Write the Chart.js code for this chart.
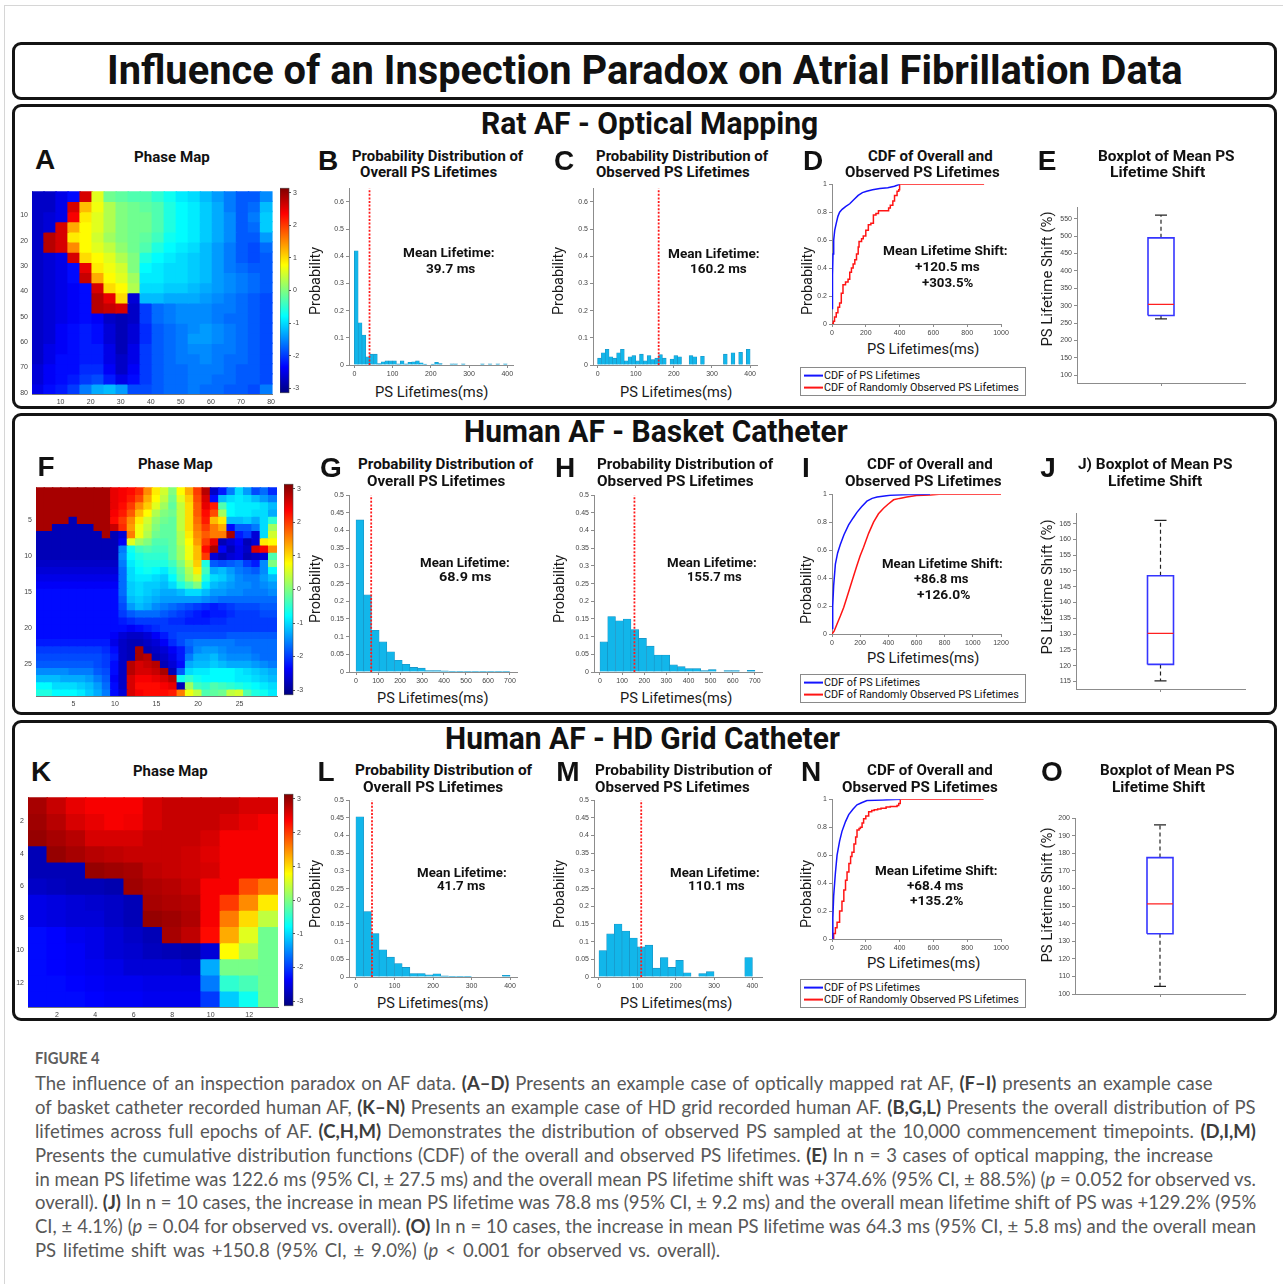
<!DOCTYPE html>
<html>
<head>
<meta charset="utf-8">
<title>Influence of an Inspection Paradox on Atrial Fibrillation Data</title>
<script src="https://cdn.jsdelivr.net/npm/chart.js@4.4.1/dist/chart.umd.min.js"></script>
<style>
  html, body { margin: 0; padding: 0; }
  body { width: 1283px; height: 1284px; position: relative; overflow: hidden; background: #fff; color: #111; font-family: Roboto, 'Liberation Sans', sans-serif; }
  .edge { position: absolute; left: 4px; top: 5px; width: 1300px; height: 1300px; border-top: 1px solid #d6d6d6; border-left: 1px solid #d6d6d6; }
  .frame { position: absolute; border: 3px solid #141414; border-radius: 9px; box-sizing: border-box; }
  .txt { position: absolute; white-space: nowrap; line-height: 1; transform-origin: left center; transform: translateY(-50%); }
  .main { font-size: 40px; font-weight: 700; }
  .row { font-size: 31px; font-weight: 700; }
  .sub { font-size: 14.5px; font-weight: 700; }
  .ann { font-size: 13px; font-weight: 700; }
  .ax { font-size: 15px; color: #1a1a1a; }
  .rot { font-size: 15px; color: #1a1a1a; transform-origin: center; }
  .let { font-family: 'Liberation Sans', Arial, sans-serif; font-size: 28px; font-weight: 700; transform-origin: center; transform: translate(-50%, -50%); }
  .legend { position: absolute; border: 1px solid #8a8a8a; box-sizing: border-box; background: #fff; }
  .legend div { position: absolute; left: 3px; font-size: 10.8px; line-height: 1; white-space: nowrap; transform: translateY(-50%); }
  .legend span { display: inline-block; width: 19px; border-top: 2px solid; vertical-align: middle; margin-right: 1px; }
  .cap { font-family: Lato, 'Open Sans', sans-serif; font-size: 18.5px; color: #585858; }
  .cap b { color: #3d3d3d; }
  .fig { font-family: Lato, 'Open Sans', sans-serif; font-size: 17.5px; font-weight: 700; color: #5e5e5e; }
</style>
</head>
<body>
<div class="edge"></div>
<div class="frame" style="left:12px;top:42px;width:1265px;height:58px"></div>
<div class="frame" style="left:12px;top:104px;width:1265px;height:305px"></div>
<div class="frame" style="left:12px;top:413px;width:1265px;height:302px"></div>
<div class="frame" style="left:12px;top:720px;width:1265px;height:301px"></div>
<script>
// phase maps (rad), row by row
const phaseA = [
  [-2.7,-2.7,-2.5,-2.3,2.6,0.6,-0.1,-0.2,-0.3,-0.3,-0.5,-0.7,-0.9,-1.0,-1.2,-1.4,-1.6,-1.8,-1.8,-1.5],
  [-2.7,-2.7,-2.5,2.6,1.2,0.7,0.3,0.0,-0.1,-0.2,-0.3,-0.6,-0.8,-0.9,-1.1,-1.3,-1.6,-1.8,-1.7,-1.2],
  [-2.7,-2.6,-2.5,2.4,0.9,0.6,0.3,0.0,-0.1,-0.1,-0.3,-0.6,-0.8,-0.9,-1.1,-1.3,-1.5,-1.8,-1.6,-1.1],
  [-2.7,-2.6,2.6,1.3,0.8,0.6,0.3,0.0,-0.1,-0.1,-0.3,-0.6,-0.8,-0.9,-1.1,-1.3,-1.5,-1.8,-1.7,-1.1],
  [-2.7,2.8,2.6,0.9,0.8,0.5,0.2,0.0,-0.1,-0.2,-0.4,-0.7,-0.8,-0.9,-1.1,-1.3,-1.5,-1.8,-1.8,-1.4],
  [-2.7,2.8,2.6,1.5,0.8,0.6,0.4,0.1,-0.1,-0.3,-0.6,-0.8,-0.9,-1.0,-1.2,-1.4,-1.6,-1.8,-1.9,-1.7],
  [-2.7,-2.6,-2.5,2.6,1.0,0.8,0.6,0.3,0.0,-0.6,-0.8,-0.9,-1.0,-1.1,-1.2,-1.4,-1.6,-1.8,-1.9,-1.8],
  [-2.7,-2.6,-2.5,-2.3,2.5,0.9,0.7,0.5,0.0,-0.8,-0.9,-1.0,-1.0,-1.1,-1.2,-1.4,-1.6,-1.7,-1.8,-1.8],
  [-2.7,-2.6,-2.5,-2.3,2.7,1.3,0.8,0.6,0.2,-0.9,-0.9,-1.0,-1.0,-1.1,-1.2,-1.4,-1.5,-1.6,-1.7,-1.8],
  [-2.7,-2.6,-2.5,-2.4,-2.3,2.6,1.0,0.8,0.3,-1.0,-1.0,-1.1,-1.1,-1.2,-1.3,-1.4,-1.5,-1.6,-1.7,-1.8],
  [-2.7,-2.6,-2.5,-2.4,-2.3,2.8,2.5,1.0,-2.6,-1.2,-1.2,-1.3,-1.3,-1.3,-1.4,-1.5,-1.6,-1.7,-1.8,-1.9],
  [-2.7,-2.6,-2.5,-2.4,-2.3,2.8,2.7,2.6,-2.7,-2.0,-1.7,-1.6,-1.5,-1.5,-1.5,-1.6,-1.6,-1.7,-1.8,-1.9],
  [-2.7,-2.6,-2.5,-2.4,-2.3,-2.4,-2.7,-2.8,-2.7,-2.0,-1.7,-1.6,-1.5,-1.5,-1.5,-1.6,-1.7,-1.7,-1.8,-1.9],
  [-2.7,-2.6,-2.4,-2.3,-2.2,-2.3,-2.6,-2.8,-2.6,-2.1,-1.8,-1.7,-1.6,-1.5,-1.4,-1.5,-1.6,-1.7,-1.8,-1.9],
  [-2.7,-2.6,-2.4,-2.3,-2.2,-2.3,-2.6,-2.8,-2.6,-2.1,-1.8,-1.7,-1.6,-1.4,-1.4,-1.5,-1.6,-1.7,-1.8,-1.9],
  [-2.7,-2.5,-2.4,-2.3,-2.2,-2.2,-2.5,-2.8,-2.5,-2.0,-1.8,-1.7,-1.6,-1.5,-1.5,-1.6,-1.6,-1.7,-1.8,-1.9],
  [-2.7,-2.5,-2.3,-2.3,-2.2,-2.2,-2.5,-2.7,-2.5,-2.0,-1.8,-1.7,-1.6,-1.6,-1.5,-1.6,-1.7,-1.7,-1.8,-1.9],
  [-2.6,-2.4,-2.3,-2.3,-2.1,-2.1,-2.4,-2.7,-2.4,-2.0,-1.8,-1.7,-1.7,-1.6,-1.6,-1.6,-1.7,-1.8,-1.8,-1.9],
  [-2.6,-2.4,-2.3,-2.2,-2.0,-1.9,-2.2,-2.5,-2.3,-2.0,-1.8,-1.7,-1.7,-1.6,-1.6,-1.7,-1.7,-1.8,-1.8,-1.9],
  [-2.5,-2.3,-2.2,-2.0,-1.6,-1.3,-1.2,-1.4,-1.9,-1.9,-1.8,-1.7,-1.7,-1.6,-1.7,-1.7,-1.8,-1.8,-1.9,-1.6],
];
const phaseF = [
  [2.9,2.9,2.9,2.9,2.9,2.9,2.9,2.9,2.9,2.5,2.4,2.3,2.1,1.5,0.9,0.5,0.0,0.8,1.3,2.0,2.8,-2.7,-2.2,-1.6,-1.0,-1.4,-1.9,-1.7,-2.1],
  [2.9,2.9,2.9,2.9,2.9,2.9,2.9,2.9,2.9,2.5,2.4,2.2,1.9,1.3,0.8,0.4,-0.1,0.6,1.1,1.9,2.6,-2.3,-1.2,-1.0,-0.9,-1.0,-1.2,-1.4,-1.6],
  [2.9,2.9,2.9,2.9,2.9,2.9,2.9,2.9,2.9,2.5,2.3,2.0,1.5,1.1,0.6,0.2,-0.2,0.4,1.0,1.8,2.5,2.2,-0.3,-0.8,-0.9,-0.9,-0.9,-1.0,-1.2],
  [2.9,2.9,2.9,2.9,2.9,2.9,2.9,2.9,2.9,2.4,2.2,1.8,1.2,0.8,0.3,0.0,-0.1,0.4,1.0,1.8,2.3,1.9,0.2,-0.8,-0.9,-0.9,-1.0,-1.0,-1.3],
  [2.9,2.9,2.9,2.9,-2.8,2.9,2.9,2.9,2.9,2.3,2.0,1.5,0.9,0.5,0.1,-0.1,-0.2,0.4,1.0,1.7,2.2,1.2,0.9,-1.2,-1.2,-1.1,-1.3,-1.0,-0.5],
  [2.9,2.9,-2.8,-2.8,-2.8,-2.8,-2.8,2.9,2.9,2.7,2.1,1.4,0.7,0.4,0.0,-0.2,-0.2,0.4,1.0,1.6,2.0,1.6,1.3,-2.3,-1.8,-1.8,-1.6,-1.0,0.2],
  [-2.8,-2.8,-2.8,-2.8,-2.8,-2.8,-2.8,-2.8,2.9,-2.8,-2.6,1.6,0.7,0.3,-0.1,-0.2,-0.2,0.3,0.9,1.5,1.8,1.6,1.6,2.9,-2.2,-2.0,-2.6,-1.0,0.5],
  [-2.8,-2.8,-2.8,-2.8,-2.8,-2.8,-2.8,-2.8,-2.8,-2.8,-2.4,0.6,0.2,0.0,-0.3,-0.3,-0.2,0.3,0.8,1.4,2.0,2.5,-2.8,-2.6,-2.4,-2.8,-2.6,0.9,0.8],
  [-2.8,-2.8,-2.8,-2.8,-2.8,-2.8,-2.8,-2.8,-2.8,-2.8,-1.6,-0.7,-0.4,-0.3,-0.4,-0.4,-0.2,0.2,0.7,1.2,2.3,2.9,-2.4,-2.8,-2.5,-2.7,2.6,2.4,1.5],
  [-2.8,-2.8,-2.8,-2.8,-2.8,-2.8,-2.8,-2.8,-2.8,-2.8,-1.5,-0.8,-0.6,-0.5,-0.5,-0.5,-0.2,0.2,0.7,1.2,2.0,-2.6,-2.8,-2.6,-2.5,-2.8,-2.7,-2.6,-0.3],
  [-2.7,-2.7,-2.7,-2.7,-2.7,-2.7,-2.7,-2.7,-2.7,-2.7,-1.6,-0.9,-0.7,-0.6,-0.6,-0.6,-0.4,0.0,0.5,1.1,-0.6,-1.8,-1.9,-1.8,-1.7,-2.0,-2.2,-1.5,0.0],
  [-2.6,-2.6,-2.6,-2.6,-2.6,-2.6,-2.6,-2.6,-2.6,-2.6,-1.7,-1.0,-0.8,-0.7,-0.8,-0.9,-0.6,-0.2,0.3,0.9,-0.4,-1.3,-1.2,-1.4,-1.6,-1.7,-1.8,-1.5,-0.8],
  [-2.5,-2.5,-2.5,-2.5,-2.5,-2.5,-2.5,-2.5,-2.5,-2.5,-1.7,-1.0,-0.9,-0.9,-1.0,-1.1,-0.8,-0.3,0.2,0.5,-0.6,-1.0,-1.1,-1.3,-1.5,-1.6,-1.6,-1.4,-1.2],
  [-2.4,-2.4,-2.4,-2.4,-2.4,-2.4,-2.4,-2.4,-2.4,-2.4,-1.7,-1.1,-1.0,-1.1,-1.1,-1.2,-1.0,-0.6,-0.3,0.0,-0.9,-1.2,-1.3,-1.4,-1.5,-1.5,-1.6,-1.5,-1.4],
  [-2.3,-2.3,-2.3,-2.3,-2.3,-2.3,-2.3,-2.3,-2.3,-2.3,-1.7,-1.1,-1.0,-1.1,-1.2,-1.3,-1.3,-1.2,-1.0,-1.0,-1.2,-1.4,-1.4,-1.5,-1.5,-1.6,-1.6,-1.6,-1.5],
  [-2.3,-2.3,-2.3,-2.3,-2.3,-2.3,-2.3,-2.3,-2.3,-2.3,-1.8,-1.2,-1.1,-1.2,-1.3,-1.4,-1.4,-1.4,-1.4,-1.4,-1.5,-1.6,-1.7,-1.7,-1.7,-1.7,-1.7,-1.7,-1.7],
  [-2.3,-2.3,-2.3,-2.3,-2.3,-2.3,-2.3,-2.3,-2.3,-2.3,-1.9,-1.4,-1.2,-1.3,-1.5,-1.6,-1.7,-1.8,-1.9,-2.0,-2.1,-2.2,-2.1,-2.0,-1.9,-1.9,-1.9,-1.8,-1.8],
  [-2.3,-2.3,-2.3,-2.3,-2.3,-2.3,-2.3,-2.3,-2.3,-2.3,-2.0,-1.8,-1.7,-1.7,-1.7,-1.8,-1.9,-2.0,-2.1,-2.2,-2.3,-2.2,-2.2,-2.1,-2.0,-2.0,-2.0,-1.9,-1.9],
  [-2.3,-2.3,-2.3,-2.3,-2.3,-2.3,-2.3,-2.3,-2.3,-2.3,-2.2,-2.1,-2.0,-2.0,-2.0,-2.0,-2.1,-2.1,-2.2,-2.2,-2.2,-2.1,-2.1,-2.0,-2.0,-2.0,-2.0,-2.0,-2.0],
  [-2.3,-2.3,-2.3,-2.3,-2.3,-2.3,-2.3,-2.3,-2.3,-2.3,-2.3,-2.4,-2.3,-2.2,-2.1,-2.0,-2.0,-2.0,-2.0,-2.0,-2.0,-2.0,-2.0,-2.0,-2.0,-2.0,-2.0,-2.0,-2.0],
  [-2.3,-2.3,-2.3,-2.3,-2.3,-2.3,-2.3,-2.3,-2.3,-2.4,-2.6,-2.7,-2.7,-2.6,-2.4,-2.2,-2.0,-1.9,-1.9,-1.9,-1.9,-1.9,-1.9,-1.8,-1.8,-1.8,-1.8,-1.8,-1.8],
  [-2.2,-2.2,-2.2,-2.2,-2.2,-2.2,-2.2,-2.2,-2.2,-2.5,-2.7,-2.8,-2.8,-2.7,-2.6,-2.4,-2.1,-1.9,-1.7,-1.6,-1.6,-1.6,-1.6,-1.6,-1.7,-1.7,-1.7,-1.7,-1.7],
  [-2.0,-2.0,-2.0,-2.0,-2.0,-2.0,-2.0,-2.0,-2.1,-2.3,-2.7,-2.8,2.9,-2.8,-2.7,-2.6,-2.4,-2.2,-1.8,-1.5,-1.4,-1.4,-1.5,-1.6,-1.6,-1.6,-1.7,-1.7,-1.7],
  [-1.9,-1.9,-1.9,-1.9,-1.9,-1.9,-1.9,-1.9,-2.0,-2.2,-2.7,-2.8,2.9,2.8,-2.8,-2.7,-2.5,-2.2,-1.6,-1.3,-1.3,-1.2,-1.4,-1.5,-1.5,-1.5,-1.6,-1.7,-1.7],
  [-1.8,-1.8,-1.8,-1.8,-1.8,-1.8,-1.8,-1.9,-2.0,-2.3,-2.7,2.8,2.6,2.7,2.8,-2.8,-2.6,-2.3,-1.3,-1.2,-1.2,-1.1,-1.2,-1.3,-1.3,-1.3,-1.4,-1.5,-1.6],
  [-1.5,-1.5,-1.5,-1.5,-1.6,-1.6,-1.6,-1.8,-1.9,-2.3,-2.7,2.8,2.6,2.6,2.7,2.9,-2.8,-1.8,-1.0,-0.9,-0.9,-0.8,-0.8,-0.8,-0.9,-1.0,-1.1,-1.2,-1.3],
  [-1.2,-1.2,-1.2,-1.3,-1.3,-1.3,-1.4,-1.6,-1.8,-2.4,-2.7,2.6,2.4,2.4,2.5,2.6,2.8,-0.7,-0.5,-0.7,-0.8,-0.8,-0.8,-0.8,-0.9,-0.9,-1.0,-1.1,-1.2],
  [-0.8,-0.8,-1.0,-1.0,-1.0,-1.1,-1.2,-1.4,-1.7,-2.3,-2.7,2.6,2.3,2.3,2.3,2.4,2.5,-2.8,0.2,-0.4,-0.5,-0.3,-0.4,-0.5,-0.6,-0.7,-0.8,-0.9,-1.0],
  [-0.6,-0.6,-0.8,-0.8,-0.8,-0.9,-1.1,-1.3,-1.6,-2.3,-2.6,2.6,2.4,2.3,2.3,2.3,2.2,1.6,0.7,0.4,-0.3,-0.2,-0.1,0.4,0.5,-0.3,-0.6,-0.7,-0.9],
];
const phaseK = [
  [2.9,2.7,2.5,2.4,2.4,2.4,2.6,2.7,2.7,2.7,2.7,2.6,2.6],
  [2.95,2.8,2.6,2.5,2.4,2.45,2.6,2.7,2.7,2.7,2.6,2.5,2.4],
  [3.0,2.9,2.8,2.6,2.6,2.6,2.7,2.7,2.7,2.6,2.4,2.4,2.4],
  [-2.8,3.0,2.9,2.8,2.75,2.7,2.7,2.7,2.65,2.55,2.4,2.4,2.4],
  [-2.8,-2.8,-2.8,3.0,2.95,2.9,2.75,2.7,2.65,2.6,2.4,2.4,2.4],
  [-2.7,-2.75,-2.8,-2.8,-2.85,2.95,2.85,2.8,2.7,2.4,2.4,1.9,1.6],
  [-2.5,-2.55,-2.6,-2.65,-2.7,-2.8,2.9,2.85,2.8,2.4,2.0,1.5,0.9],
  [-2.5,-2.55,-2.6,-2.6,-2.7,-2.8,3.0,2.95,2.85,2.4,1.6,1.0,0.4],
  [-2.3,-2.35,-2.45,-2.5,-2.6,-2.7,-2.8,2.9,2.75,2.3,1.3,0.6,-0.1],
  [-2.3,-2.35,-2.4,-2.5,-2.6,-2.65,-2.75,-2.8,-2.85,-2.6,0.8,0.3,-0.1],
  [-2.3,-2.35,-2.4,-2.45,-2.5,-2.6,-2.6,-2.6,-2.65,-1.3,-0.05,-0.05,-0.1],
  [-2.3,-2.3,-2.35,-2.4,-2.45,-2.45,-2.5,-2.5,-2.5,-1.6,-0.5,-0.35,-0.1],
  [-2.3,-2.3,-2.3,-2.35,-2.4,-2.4,-2.45,-2.45,-2.45,-2.0,-1.1,-0.7,-0.1],
];
const phaseTicks = [-3, -2, -1, 0, 1, 2, 3];
const ticksA = [10, 20, 30, 40, 50, 60, 70, 80];
const ticksF = [5, 10, 15, 20, 25];
const ticksK = [2, 4, 6, 8, 10, 12];

// PS lifetime histograms: bin width (ms), probability per bin, mean (ms)
const binB = 10;
const probB = [0.42,0.155,0.11,0.03,0.04,0.04,0.005,0.012,0.015,0.015,0.015,0.004,0.015,0.004,0.01,0.012,0.015,0.008,0.003,0,0.003,0.01,0.005,0,0,0.004,0.004,0,0.004,0,0,0,0,0.004,0,0.004,0,0.004,0,0.004];
const meanB = 39.7;
const binC = 10;
const probC = [0.025,0.045,0.058,0.03,0.025,0.045,0.058,0.015,0.03,0.035,0.015,0.04,0.015,0.035,0.02,0.025,0.038,0.025,0,0.022,0.035,0.03,0,0,0.035,0.03,0,0.032,0,0,0,0,0,0.04,0,0.045,0,0.047,0,0.058];
const meanC = 160.2;
const binG = 35;
const probG = [0.43,0.218,0.118,0.085,0.057,0.033,0.022,0.013,0.011,0.004,0.004,0.003,0.002,0.002,0.002,0.001,0.001,0.001,0.001,0.001];
const meanG = 68.9;
const binH = 35;
const probH = [0.085,0.157,0.145,0.15,0.12,0.095,0.073,0.048,0.048,0.02,0.015,0.01,0.01,0.004,0.007,0,0.004,0.004,0,0.005];
const meanH = 155.7;
const binL = 20;
const probL = [0.453,0.185,0.123,0.077,0.056,0.038,0.027,0.01,0.01,0.006,0.009,0.003,0.001,0.002,0.002,0,0,0,0,0.005];
const meanL = 41.7;
const binM = 20;
const probM = [0.075,0.122,0.15,0.13,0.11,0.085,0.09,0.025,0.055,0.027,0.047,0.012,0,0.01,0.015,0,0,0,0,0.055];
const meanM = 110.1;
const ticksMs400 = [0, 100, 200, 300, 400];
const ticksMs700 = [0, 100, 200, 300, 400, 500, 600, 700];
const ticksProb6 = [0, 0.1, 0.2, 0.3, 0.4, 0.5, 0.6];
const ticksProb5 = [0, 0.05, 0.1, 0.15, 0.2, 0.25, 0.3, 0.35, 0.4, 0.45, 0.5];

// CDFs as [ms, probability]
const cdfAllD = [[0,0.11],[3,0.35],[6,0.5],[10,0.6],[16,0.67],[25,0.72],[35,0.77],[45,0.8],[60,0.82],[80,0.84],[105,0.86],[130,0.89],[155,0.92],[180,0.94],[205,0.95],[240,0.96],[283,0.97],[330,0.975],[370,0.985],[400,1]];
const cdfObsD = [[0,0],[8,0.02],[15,0.05],[25,0.08],[35,0.12],[45,0.15],[55,0.22],[65,0.28],[80,0.3],[95,0.32],[105,0.37],[115,0.4],[125,0.43],[135,0.46],[145,0.5],[155,0.55],[160,0.59],[175,0.61],[185,0.63],[200,0.67],[215,0.71],[230,0.72],[245,0.78],[260,0.79],[275,0.81],[335,0.83],[345,0.85],[360,0.88],[370,0.92],[385,0.95],[395,0.96],[400,1],[900,1]];
const cdfAllI = [[0,0.04],[5,0.2],[12,0.35],[24,0.5],[40,0.58],[59,0.64],[85,0.71],[118,0.78],[150,0.83],[177,0.87],[210,0.91],[248,0.95],[285,0.97],[320,0.98],[413,0.993],[550,0.998],[697,1]];
const cdfObsI = [[0,0],[15,0.02],[35,0.07],[60,0.13],[83,0.19],[105,0.26],[130,0.34],[155,0.42],[177,0.49],[200,0.56],[224,0.62],[260,0.72],[295,0.8],[330,0.86],[366,0.9],[400,0.93],[437,0.96],[480,0.97],[531,0.98],[600,0.99],[697,0.995],[760,1],[1200,1]];
const cdfAllN = [[0,0],[5,0.15],[10,0.31],[20,0.47],[30,0.6],[45,0.7],[59,0.77],[80,0.84],[99,0.89],[125,0.93],[148,0.96],[175,0.975],[207,0.99],[300,0.995],[404,1]];
const cdfObsN = [[0,0],[10,0.04],[20,0.08],[30,0.12],[45,0.2],[59,0.27],[70,0.35],[80,0.42],[89,0.48],[100,0.54],[110,0.59],[118,0.62],[130,0.68],[140,0.73],[148,0.78],[160,0.79],[168,0.8],[178,0.83],[187,0.86],[200,0.88],[217,0.91],[235,0.92],[250,0.925],[270,0.93],[290,0.935],[320,0.945],[345,0.947],[385,0.955],[395,0.97],[404,1],[897,1]];
const ticksCdf1000 = [0, 200, 400, 600, 800, 1000];
const ticksCdf1200 = [0, 200, 400, 600, 800, 1000, 1200];
const ticksCdfY = [0, 0.2, 0.4, 0.6, 0.8, 1];

// boxplots of mean PS lifetime shift (%): min, q1, median, q3, max
const boxE = [262, 272, 304, 495, 560];
const boxJ = [115.2, 120.4, 130.2, 148.5, 166];
const boxO = [104.3, 134.3, 151.3, 177.6, 196.2];
const ticksE = [100, 150, 200, 250, 300, 350, 400, 450, 500, 550];
const ticksJ = [115, 120, 125, 130, 135, 140, 145, 150, 155, 160, 165];
const ticksO = [100, 110, 120, 130, 140, 150, 160, 170, 180, 190, 200];

Chart.defaults.font.family = "'Liberation Sans', Arial, sans-serif";

const jetStops = [[0, '#000080'], [0.125, '#0000ff'], [0.375, '#00ffff'], [0.625, '#ffff00'], [0.875, '#ff0000'], [1, '#800000']];
function jet(v) {
  const t = (v + Math.PI) / (2 * Math.PI);
  const c = (d) => Math.round(255 * Math.max(0, Math.min(1, 1.5 - Math.abs(4 * t - d))));
  return `rgb(${c(3)},${c(2)},${c(1)})`;
}

// canvas box so that the plot area lands on rect [x0, y0, x1, y1]
function place(rect, pad) {
  const [x0, y0, x1, y1] = rect;
  const box = document.createElement('div');
  box.style.cssText = `position:absolute;left:${x0 - pad.l}px;top:${y0 - pad.t}px;width:${x1 - x0 + pad.l + pad.r}px;height:${y1 - y0 + pad.t + pad.b}px`;
  const cv = document.createElement('canvas');
  box.appendChild(cv);
  document.body.appendChild(box);
  return cv;
}

function axis(min, max, ticks, size, extra) {
  return Object.assign({
    type: 'linear', min, max, offset: false,
    afterBuildTicks: (s) => { s.ticks = ticks.map((v) => ({ value: v })); },
    afterFit: (s) => { if (s.isHorizontal()) s.height = size; else s.width = size; },
    ticks: { autoSkip: false, maxRotation: 0, padding: 2, color: '#444', font: { size: 7 }, callback: (v) => String(v) },
    grid: { offset: false, drawOnChartArea: false, drawTicks: true, tickLength: 3, color: '#8c8c8c' },
    border: { color: '#8c8c8c', width: 1 },
  }, extra || {});
}

function opts(padding, scales) {
  return {
    responsive: true, maintainAspectRatio: false, animation: false, events: [],
    layout: { padding },
    plugins: { legend: { display: false }, tooltip: { enabled: false } },
    scales,
  };
}

function heatChart(rect, grid, block, n, ticks) {
  const pad = { l: 16, t: 4, r: 6, b: 14 };
  const cv = place(rect, pad);
  const heatGrid = { offset: false, drawOnChartArea: false, drawTicks: false };
  const heatTicks = { autoSkip: false, maxRotation: 0, padding: 4, color: '#444', font: { size: 7 }, callback: (v) => String(v) };
  const datasets = grid.map((row, r) => ({
    type: 'bar',
    data: row.map((v, c) => ({ x: c * block + block / 2 + 0.5, y: [r * block + 0.5, (r + 1) * block + 0.5] })),
    backgroundColor: row.map(jet),
    grouped: false, barPercentage: 1, categoryPercentage: 1, borderWidth: 0, inflateAmount: 0.7,
  }));
  new Chart(cv, {
    type: 'bar',
    data: { datasets },
    options: opts({ left: 0, top: pad.t, right: pad.r, bottom: 0 }, {
      x: axis(0.5, n + 0.5, ticks, pad.b, { grid: heatGrid, ticks: heatTicks, border: { color: '#777' } }),
      y: axis(0.5, n + 0.5, ticks, pad.l, { reverse: true, grid: heatGrid, ticks: heatTicks, border: { color: '#777' } }),
    }),
  });
}

const jetFill = {
  id: 'jetFill',
  beforeDatasetsDraw(chart) {
    const { ctx, chartArea: a } = chart;
    const g = ctx.createLinearGradient(0, a.bottom, 0, a.top);
    jetStops.forEach(([t, col]) => g.addColorStop(t, col));
    ctx.save();
    ctx.fillStyle = g;
    ctx.fillRect(a.left, a.top, a.width, a.height);
    ctx.strokeStyle = '#444';
    ctx.lineWidth = 0.6;
    ctx.strokeRect(a.left, a.top, a.width, a.height);
    ctx.restore();
  },
};

function colorbar(rect) {
  const pad = { l: 0, t: 5, r: 14, b: 5 };
  const cv = place(rect, pad);
  new Chart(cv, {
    type: 'bar',
    data: { datasets: [] },
    options: opts({ left: 0, top: pad.t, right: 0, bottom: pad.b }, {
      x: { display: false },
      y: axis(-Math.PI, Math.PI, phaseTicks, pad.r, {
        position: 'right',
        grid: { drawOnChartArea: false, drawTicks: true, tickLength: 2, color: '#555' },
        border: { display: false },
      }),
    }),
    plugins: [jetFill],
  });
}

function histChart(rect, xr, yTop, bin, probs, mean, xTicks, yTicks) {
  const pad = { l: 30, t: 6, r: 10, b: 14 };
  const cv = place(rect, pad);
  new Chart(cv, {
    type: 'bar',
    data: {
      datasets: [
        { type: 'line', data: [{ x: mean, y: 0 }, { x: mean, y: yTop }], borderColor: '#ff1a1a', borderWidth: 1.8, borderDash: [2, 1.6], pointRadius: 0 },
        {
          type: 'bar', data: probs.map((p, i) => ({ x: (i + 0.5) * bin, y: p })),
          backgroundColor: '#12b6ea', borderColor: '#1a8fc0', borderWidth: 0.6, barPercentage: 1, categoryPercentage: 1,
        },
      ],
    },
    options: opts({ left: 0, top: pad.t, right: pad.r, bottom: 0 }, {
      x: axis(xr[0], xr[1], xTicks, pad.b),
      y: axis(0, yTop, yTicks, pad.l),
    }),
  });
}

function cdfChart(rect, xMax, all, obs, obsStepped, xTicks) {
  const pad = { l: 18, t: 6, r: 12, b: 14 };
  const cv = place(rect, pad);
  const line = (pts, color, stepped) => ({ data: pts.map(([x, y]) => ({ x, y })), borderColor: color, borderWidth: 1.5, pointRadius: 0, stepped });
  new Chart(cv, {
    type: 'line',
    data: { datasets: [line(all, '#1414ff', false), line(obs, '#ff1414', obsStepped)] },
    options: opts({ left: 0, top: pad.t, right: pad.r, bottom: 0 }, {
      x: axis(0, xMax, xTicks, pad.b),
      y: axis(0, 1, ticksCdfY, pad.l),
    }),
  });
}

function boxChart(rect, yr, stats, yTicks) {
  const pad = { l: 26, t: 6, r: 4, b: 8 };
  const cv = place(rect, pad);
  const [lo, q1, med, q3, hi] = stats;
  const perUnit = (rect[2] - rect[0]) / 2;
  const bw = 13 / perUnit;
  const cw = 6 / perUnit;
  const seg = (pts, color, dash, width) => ({
    data: pts.map(([x, y]) => ({ x, y })), borderColor: color, borderDash: dash || [], borderWidth: width || 1.2, pointRadius: 0,
  });
  new Chart(cv, {
    type: 'line',
    data: {
      datasets: [
        seg([[1 - bw, med], [1 + bw, med]], '#ff2020', null, 1.2),
        seg([[1 - bw, q1], [1 + bw, q1], [1 + bw, q3], [1 - bw, q3], [1 - bw, q1]], '#3535ff', null, 1.6),
        seg([[1, q3], [1, hi]], '#222', [4, 3]),
        seg([[1, q1], [1, lo]], '#222', [4, 3]),
        seg([[1 - cw, hi], [1 + cw, hi]], '#222'),
        seg([[1 - cw, lo], [1 + cw, lo]], '#222'),
      ],
    },
    options: opts({ left: 0, top: pad.t, right: pad.r, bottom: 0 }, {
      x: axis(0, 2, [1], pad.b, {
        ticks: { display: false },
        grid: { offset: false, drawOnChartArea: false, drawTicks: true, tickLength: 3, color: '#8c8c8c' },
      }),
      y: axis(yr[0], yr[1], yTicks, pad.l),
    }),
  });
}

// row 1: rat AF, optical mapping
heatChart([32, 187, 273, 394], phaseA, 4, 80, ticksA);
colorbar([280, 187, 289, 394]);
histChart([349, 188, 513, 365], [-14, 415], 0.65, binB, probB, meanB, ticksMs400, ticksProb6);
histChart([593, 188, 757, 365], [-12, 418], 0.65, binC, probC, meanC, ticksMs400, ticksProb6);
cdfChart([832, 184, 1001, 324], 1000, cdfAllD, cdfObsD, true, ticksCdf1000);
boxChart([1077, 207, 1245, 383], [78, 583], boxE, ticksE);

// row 2: human AF, basket catheter
heatChart([36, 483, 277, 696], phaseF, 1, 29, ticksF);
colorbar([284, 483, 293, 696]);
histChart([349, 495, 517, 672], [-32, 732], 0.5, binG, probG, meanG, ticksMs700, ticksProb5);
histChart([594, 495, 762, 672], [-27, 732], 0.5, binH, probH, meanH, ticksMs700, ticksProb5);
cdfChart([832, 494, 1001, 634], 1200, cdfAllI, cdfObsI, false, ticksCdf1200);
boxChart([1076, 513, 1245, 689], [112.6, 168.3], boxJ, ticksJ);

// row 3: human AF, HD grid catheter
heatChart([28, 793, 278, 1007], phaseK, 1, 13, ticksK);
colorbar([284, 793, 293, 1007]);
histChart([349, 800, 517, 977], [-18, 418], 0.5, binL, probL, meanL, ticksMs400, ticksProb5);
histChart([594, 800, 762, 977], [-13, 425], 0.5, binM, probM, meanM, ticksMs400, ticksProb5);
cdfChart([832, 799, 1001, 939], 1000, cdfAllN, cdfObsN, true, ticksCdf1000);
boxChart([1075, 818, 1245, 994], [100, 200], boxO, ticksO);

// text: [string, left, centre y, class, width]
const texts = [
  ['Influence of an Inspection Paradox on Atrial Fibrillation Data', 107, 71, 'main', 1076],
  ['Rat AF - Optical Mapping', 481, 123, 'row', 337],
  ['Human AF - Basket Catheter', 464, 431, 'row', 384],
  ['Human AF - HD Grid Catheter', 445, 738, 'row', 395],

  ['Phase Map', 134, 158, 'sub', 76],
  ['Probability Distribution of', 352, 157, 'sub', 171], ['Overall PS Lifetimes', 360, 173, 'sub', 137],
  ['Probability Distribution of', 596, 157, 'sub', 172], ['Observed PS Lifetimes', 596, 173, 'sub', 154],
  ['CDF of Overall and', 868, 157, 'sub', 125], ['Observed PS Lifetimes', 845, 173, 'sub', 155],
  ['Boxplot of Mean PS', 1098, 157, 'sub', 137], ['Lifetime Shift', 1110, 173, 'sub', 95],

  ['Phase Map', 138, 465, 'sub', 75],
  ['Probability Distribution of', 358, 465, 'sub', 175], ['Overall PS Lifetimes', 367, 482, 'sub', 138],
  ['Probability Distribution of', 597, 465, 'sub', 176], ['Observed PS Lifetimes', 597, 482, 'sub', 157],
  ['CDF of Overall and', 867, 465, 'sub', 126], ['Observed PS Lifetimes', 845, 482, 'sub', 157],
  ['J) Boxplot of Mean PS', 1078, 465, 'sub', 154], ['Lifetime Shift', 1108, 482, 'sub', 94],

  ['Phase Map', 133, 772, 'sub', 75],
  ['Probability Distribution of', 355, 771, 'sub', 177], ['Overall PS Lifetimes', 363, 788, 'sub', 140],
  ['Probability Distribution of', 595, 771, 'sub', 177], ['Observed PS Lifetimes', 595, 788, 'sub', 155],
  ['CDF of Overall and', 867, 771, 'sub', 126], ['Observed PS Lifetimes', 842, 788, 'sub', 156],
  ['Boxplot of Mean PS', 1100, 771, 'sub', 135], ['Lifetime Shift', 1112, 788, 'sub', 93],

  ['Mean Lifetime:', 403, 252, 'ann', 92], ['39.7 ms', 426, 268, 'ann', 49],
  ['Mean Lifetime:', 668, 253, 'ann', 92], ['160.2 ms', 690, 268, 'ann', 57],
  ['Mean Lifetime Shift:', 883, 250, 'ann', 125], ['+120.5 ms', 915, 266, 'ann', 65], ['+303.5%', 922, 282, 'ann', 51],
  ['Mean Lifetime:', 420, 562, 'ann', 90], ['68.9 ms', 439, 576, 'ann', 52],
  ['Mean Lifetime:', 667, 562, 'ann', 90], ['155.7 ms', 687, 576, 'ann', 55],
  ['Mean Lifetime Shift:', 882, 563, 'ann', 121], ['+86.8 ms', 914, 578, 'ann', 54], ['+126.0%', 917, 594, 'ann', 53],
  ['Mean Lifetime:', 417, 872, 'ann', 90], ['41.7 ms', 437, 885, 'ann', 48],
  ['Mean Lifetime:', 670, 872, 'ann', 90], ['110.1 ms', 688, 885, 'ann', 57],
  ['Mean Lifetime Shift:', 875, 870, 'ann', 123], ['+68.4 ms', 907, 885, 'ann', 56], ['+135.2%', 910, 900, 'ann', 53],

  ['PS Lifetimes(ms)', 375, 392, 'ax', 113], ['PS Lifetimes(ms)', 620, 392, 'ax', 112], ['PS Lifetimes(ms)', 867, 349, 'ax', 112],
  ['PS Lifetimes(ms)', 377, 698, 'ax', 111], ['PS Lifetimes(ms)', 620, 698, 'ax', 112], ['PS Lifetimes(ms)', 867, 658, 'ax', 112],
  ['PS Lifetimes(ms)', 377, 1003, 'ax', 111], ['PS Lifetimes(ms)', 620, 1003, 'ax', 112], ['PS Lifetimes(ms)', 867, 963, 'ax', 113],

  ['FIGURE 4', 35, 1058, 'fig', 65],
];

// rotated axis titles: [string, centre x, centre y, length]
const rotated = [
  ['Probability', 315, 281, 68], ['Probability', 558, 281, 68], ['Probability', 807, 281, 68], ['PS Lifetime Shift (%)', 1047, 279, 135],
  ['Probability', 315, 589, 68], ['Probability', 559, 589, 68], ['Probability', 806, 590, 68], ['PS Lifetime Shift (%)', 1047, 587, 135],
  ['Probability', 315, 894, 68], ['Probability', 559, 894, 68], ['Probability', 806, 894, 68], ['PS Lifetime Shift (%)', 1047, 895, 135],
];

const letters = [
  ['A', 45, 160], ['B', 328, 161], ['C', 564, 161], ['D', 813, 161], ['E', 1047, 161],
  ['F', 46, 467], ['G', 331, 468], ['H', 565, 468], ['I', 806, 468], ['J', 1048, 468],
  ['K', 41, 772], ['L', 326, 772], ['M', 568, 772], ['N', 811, 772], ['O', 1052, 772],
];

// caption lines: [html, centre y, width]
const caption = [
  ['The influence of an inspection paradox on AF data. <b>(A–D)</b> Presents an example case of optically mapped rat AF, <b>(F–I)</b> presents an example case', 1083, 1178],
  ['of basket catheter recorded human AF, <b>(K–N)</b> Presents an example case of HD grid recorded human AF. <b>(B,G,L)</b> Presents the overall distribution of PS', 1107, 1221],
  ['lifetimes across full epochs of AF. <b>(C,H,M)</b> Demonstrates the distribution of observed PS sampled at the 10,000 commencement timepoints. <b>(D,I,M)</b>', 1131, 1221],
  ['Presents the cumulative distribution functions (CDF) of the overall and observed PS lifetimes. <b>(E)</b> In n = 3 cases of optical mapping, the increase', 1155, 1178],
  ['in mean PS lifetime was 122.6 ms (95% CI, ± 27.5 ms) and the overall mean PS lifetime shift was +374.6% (95% CI, ± 88.5%) (<i>p</i> = 0.052 for observed vs.', 1179, 1221],
  ['overall). <b>(J)</b> In n = 10 cases, the increase in mean PS lifetime was 78.8 ms (95% CI, ± 9.2 ms) and the overall mean lifetime shift of PS was +129.2% (95%', 1202, 1221],
  ['CI, ± 4.1%) (<i>p</i> = 0.04 for observed vs. overall). <b>(O)</b> In n = 10 cases, the increase in mean PS lifetime was 64.3 ms (95% CI, ± 5.8 ms) and the overall mean', 1226, 1221],
  ['PS lifetime shift was +150.8 (95% CI, ± 9.0%) (<i>p</i> &lt; 0.001 for observed vs. overall).', 1250, 685],
];

function addText(html, x, y, cls) {
  const el = document.createElement('div');
  el.className = 'txt ' + cls;
  el.innerHTML = html;
  el.style.left = x + 'px';
  el.style.top = y + 'px';
  document.body.appendChild(el);
  return el;
}

const fitted = [];
texts.forEach(([s, x, y, cls, w]) => fitted.push([addText(s, x, y, cls), w, 'plain']));
rotated.forEach(([s, x, y, w]) => fitted.push([addText(s, x, y, 'rot'), w, 'rot']));
letters.forEach(([s, x, y]) => addText(s, x, y, 'let'));
caption.forEach(([s, y, w]) => fitted.push([addText(s, 35, y, 'cap'), w, 'cap']));

// legends of the CDF panels
[[800, 367], [800, 674], [800, 979]].forEach(([x, y]) => {
  const el = document.createElement('div');
  el.className = 'legend';
  el.style.cssText = `left:${x}px;top:${y}px;width:226px;height:29px`;
  el.innerHTML = '<div style="top:8px"><span style="border-color:#1414ff"></span>CDF of PS Lifetimes</div>' +
    '<div style="top:20px"><span style="border-color:#ff1414"></span>CDF of Randomly Observed PS Lifetimes</div>';
  document.body.appendChild(el);
});

// squeeze or spread text to the widths measured on the figure
function fitAll() {
  fitted.forEach(([el, w, kind]) => {
    const nat = el.offsetWidth;
    if (!nat) return;
    if (kind === 'cap') {
      const gaps = (el.textContent.match(/ /g) || []).length;
      if (nat < w && gaps) el.style.wordSpacing = ((w - nat) / gaps) + 'px';
      else el.style.transform = `translateY(-50%) scaleX(${w / nat})`;
    } else if (kind === 'rot') {
      el.style.transform = `translate(-50%, -50%) rotate(-90deg) scaleX(${w / nat})`;
    } else {
      el.style.transform = `translateY(-50%) scaleX(${w / nat})`;
    }
  });
}
if (document.fonts && document.fonts.ready) document.fonts.ready.then(fitAll); else fitAll();
</script>
</body>
</html>
